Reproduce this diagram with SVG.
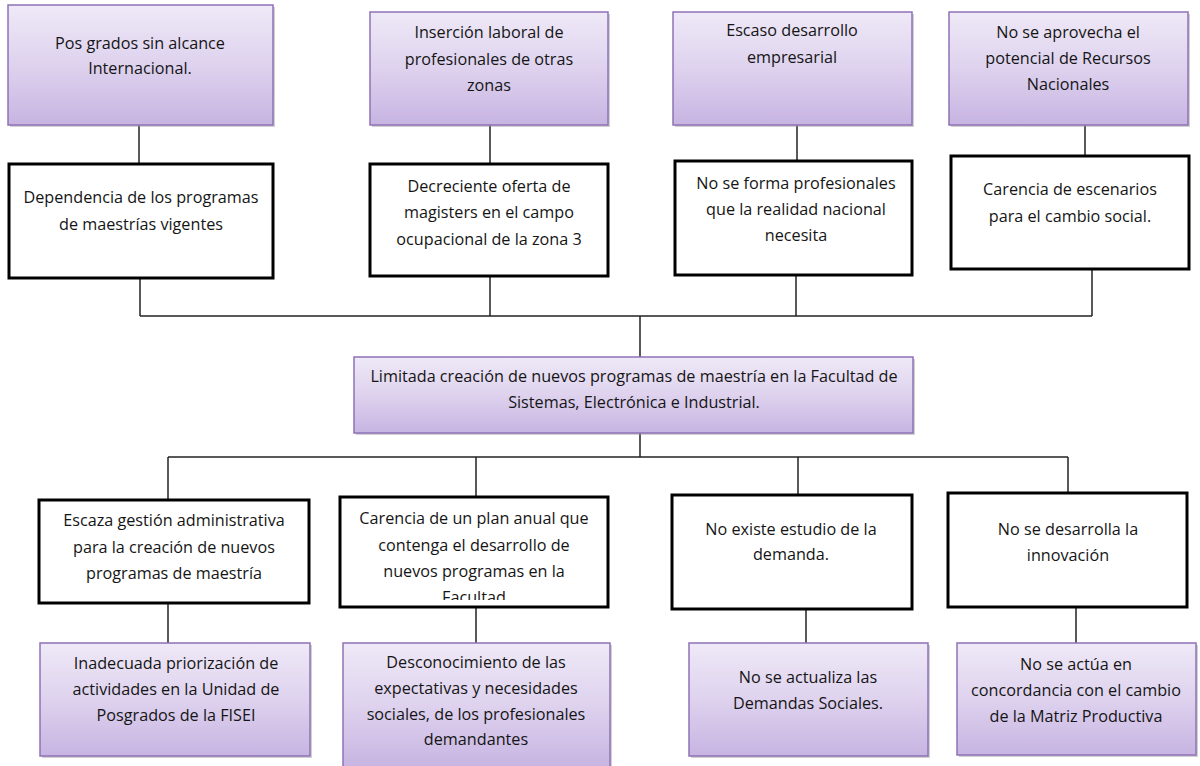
<svg xmlns="http://www.w3.org/2000/svg" width="1200" height="766" viewBox="0 0 1200 766">
<defs>
<linearGradient id="pg" x1="0" y1="0" x2="0" y2="1">
<stop offset="0" stop-color="#efe9f7"/>
<stop offset="0.5" stop-color="#ded2ee"/>
<stop offset="1" stop-color="#c7b4e2"/>
</linearGradient>
<clipPath id="clipF"><rect x="340" y="497" width="268" height="103"/></clipPath>
</defs>
<style>
.p{fill:url(#pg);stroke:#8e72b6;stroke-width:1.5}
.sh{fill:#9a9a9a;opacity:0.45}
.b{fill:#fff;stroke:#000;stroke-width:3}
.c{stroke:#222;stroke-width:1.5;fill:none}
text{font-family:"Open Sans","Liberation Sans",sans-serif;font-size:16.2px;fill:#151515;text-anchor:middle}
</style>
<rect width="1200" height="766" fill="#fff"/>
<g id="connectors">
<line class="c" x1="139" y1="125" x2="139" y2="163"/>
<line class="c" x1="490" y1="125" x2="490" y2="163"/>
<line class="c" x1="797" y1="125" x2="797" y2="160"/>
<line class="c" x1="1085" y1="125" x2="1085" y2="155"/>
<line class="c" x1="140" y1="278" x2="140" y2="316"/>
<line class="c" x1="490" y1="276" x2="490" y2="316"/>
<line class="c" x1="796" y1="275" x2="796" y2="316"/>
<line class="c" x1="1092" y1="269" x2="1092" y2="316"/>
<line class="c" x1="140" y1="316" x2="1092" y2="316"/>
<line class="c" x1="640" y1="316" x2="640" y2="357"/>
<line class="c" x1="640" y1="433" x2="640" y2="457"/>
<line class="c" x1="168" y1="457" x2="1068" y2="457"/>
<line class="c" x1="168" y1="457" x2="168" y2="500"/>
<line class="c" x1="476" y1="457" x2="476" y2="497"/>
<line class="c" x1="798" y1="457" x2="798" y2="495"/>
<line class="c" x1="1068" y1="457" x2="1068" y2="493"/>
<line class="c" x1="168" y1="603" x2="168" y2="643"/>
<line class="c" x1="476" y1="607" x2="476" y2="643"/>
<line class="c" x1="806" y1="609" x2="806" y2="643"/>
<line class="c" x1="1076" y1="607" x2="1076" y2="643"/>
</g>
<g id="t1"><rect class="sh" x="10" y="7" width="265" height="120"/><rect class="p" x="8" y="5" width="265" height="120"/>
<text x="140" y="49">Pos grados sin alcance</text><text x="140" y="74">Internacional.</text></g>
<g id="t2"><rect class="sh" x="372" y="14" width="238" height="113"/><rect class="p" x="370" y="12" width="238" height="113"/>
<text x="489" y="38">Inserción laboral de</text><text x="489" y="65">profesionales de otras</text><text x="489" y="91">zonas</text></g>
<g id="t3"><rect class="sh" x="675" y="14" width="239" height="113"/><rect class="p" x="673" y="12" width="239" height="113"/>
<text x="792" y="36">Escaso desarrollo</text><text x="792" y="63">empresarial</text></g>
<g id="t4"><rect class="sh" x="951" y="14" width="239" height="113"/><rect class="p" x="949" y="12" width="239" height="113"/>
<text x="1068" y="38">No se aprovecha el</text><text x="1068" y="64">potencial de Recursos</text><text x="1068" y="90">Nacionales</text></g>
<g id="m1"><rect class="b" x="9" y="164" width="264" height="114"/>
<text x="141" y="203">Dependencia de los programas</text><text x="141" y="230">de maestrías vigentes</text></g>
<g id="m2"><rect class="b" x="370" y="164" width="238" height="112"/>
<text x="489" y="192">Decreciente oferta de</text><text x="489" y="218">magisters en el campo</text><text x="489" y="245">ocupacional de la zona 3</text></g>
<g id="m3"><rect class="b" x="675" y="161" width="237" height="114"/>
<text x="796" y="189">No se forma profesionales</text><text x="796" y="215">que la realidad nacional</text><text x="796" y="241">necesita</text></g>
<g id="m4"><rect class="b" x="951" y="156" width="238" height="113"/>
<text x="1070" y="195">Carencia de escenarios</text><text x="1070" y="222">para el cambio social.</text></g>
<g id="center"><rect class="sh" x="356" y="359" width="559" height="76"/><rect class="p" x="354" y="357" width="559" height="76"/>
<text x="634" y="382">Limitada creación de nuevos programas de maestría en la Facultad de</text><text x="634" y="408">Sistemas, Electrónica e Industrial.</text></g>
<g id="b1"><rect class="b" x="39" y="500" width="270" height="103"/>
<text x="174" y="526">Escaza gestión administrativa</text><text x="174" y="553">para la creación de nuevos</text><text x="174" y="579">programas de maestría</text></g>
<g id="b2"><rect class="b" x="340" y="497" width="268" height="110"/>
<g clip-path="url(#clipF)"><text x="474" y="524">Carencia de un plan anual que</text><text x="474" y="551">contenga el desarrollo de</text><text x="474" y="577">nuevos programas en la</text><text x="474" y="603">Facultad</text></g></g>
<g id="b3"><rect class="b" x="672" y="495" width="240" height="114"/>
<text x="791" y="535">No existe estudio de la</text><text x="791" y="560">demanda.</text></g>
<g id="b4"><rect class="b" x="948" y="493" width="239" height="114"/>
<text x="1068" y="535">No se desarrolla la</text><text x="1068" y="561">innovación</text></g>
<g id="l1"><rect class="sh" x="42" y="645" width="270" height="113"/><rect class="p" x="40" y="643" width="270" height="113"/>
<text x="176" y="669">Inadecuada priorización de</text><text x="176" y="695">actividades en la Unidad de</text><text x="176" y="721">Posgrados de la FISEI</text></g>
<g id="l2"><rect class="sh" x="345" y="645" width="267" height="125"/><rect class="p" x="343" y="643" width="267" height="125"/>
<text x="476" y="668">Desconocimiento de las</text><text x="476" y="694">expectativas y necesidades</text><text x="476" y="720">sociales, de los profesionales</text><text x="476" y="745">demandantes</text></g>
<g id="l3"><rect class="sh" x="691" y="645" width="239" height="113"/><rect class="p" x="689" y="643" width="239" height="113"/>
<text x="808" y="683">No se actualiza las</text><text x="808" y="709">Demandas Sociales.</text></g>
<g id="l4"><rect class="sh" x="959" y="645" width="239" height="112"/><rect class="p" x="957" y="643" width="239" height="112"/>
<text x="1076" y="670">No se actúa en</text><text x="1076" y="696">concordancia con el cambio</text><text x="1076" y="722">de la Matriz Productiva</text></g>
</svg>
